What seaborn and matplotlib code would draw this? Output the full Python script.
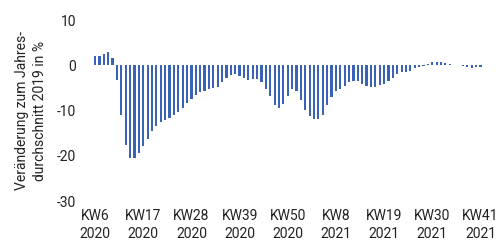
import matplotlib
matplotlib.use("Agg")
import matplotlib.pyplot as plt
import seaborn as sns

# weekly change vs. 2019 average, KW6 2020 .. KW41 2021
weeks_2020 = list(range(6, 54))
weeks_2021 = list(range(1, 42))
week_labels = [f"KW{w}\n2020" for w in weeks_2020] + [f"KW{w}\n2021" for w in weeks_2021]

values = [
    2.0, 2.0, 2.4, 2.8, 1.5, -3.3, -11.2, -17.8, -20.6, -20.7,
    -19.6, -18.1, -16.4, -14.7, -13.6, -12.7, -12.2, -11.8, -11.1, -10.4,
    -9.5, -8.4, -7.5, -6.7, -6.1, -5.8, -5.4, -5.1, -4.8, -3.9,
    -3.0, -2.2, -2.0, -2.4, -3.0, -3.3, -3.2, -3.1, -3.7, -5.3,
    -7.0, -8.8, -9.5, -8.7, -6.9, -5.3, -5.8, -7.8, -10.1, -11.3,
    -12.0, -12.1, -11.2, -9.0, -7.1, -5.9, -5.3, -4.7, -3.9, -3.5,
    -3.6, -4.2, -4.6, -4.8, -4.8, -4.5, -4.2, -3.6, -3.0, -2.1,
    -1.6, -1.5, -1.3, -0.6, -0.4, -0.15, 0.2, 0.7, 0.7, 0.7,
    0.4, 0.15, 0.05, -0.1, -0.2, -0.4, -0.7, -0.4, -0.4,
]

y_ticks = [10, 0, -10, -20, -30]

sns.set_theme(style="white")
plt.rcParams["font.family"] = ["Roboto", "DejaVu Sans"]

fig = plt.figure(figsize=(5, 2.51), dpi=100)
ax = fig.add_axes([0.177, 0.199, 0.797, 0.718])

sns.barplot(x=week_labels, y=values, color="#3a63b8", width=0.5,
            saturation=1, linewidth=0, ax=ax)

ax.set_xlim(-1.5, 89.5)
ax.set_ylim(-30, 10)
ax.set_yticks(y_ticks)
ax.set_yticklabels([str(t) for t in y_ticks])
ticks = list(range(0, len(week_labels), 11))
ax.set_xticks(ticks)
ax.set_xticklabels([week_labels[i] for i in ticks], linespacing=1.35)
ax.tick_params(axis="both", length=0, labelsize=10, colors="#222222")
ax.tick_params(axis="x", pad=6)
ax.tick_params(axis="y", pad=9)
ax.set_xlabel("")
ax.set_ylabel("Veränderung zum Jahres-\ndurchschnitt 2019 in %", fontsize=10,
              color="#222222", linespacing=1.3)
ax.yaxis.set_label_coords(-0.105, 0.5)
sns.despine(left=True, bottom=True)

fig.savefig("out.png", dpi=100)
